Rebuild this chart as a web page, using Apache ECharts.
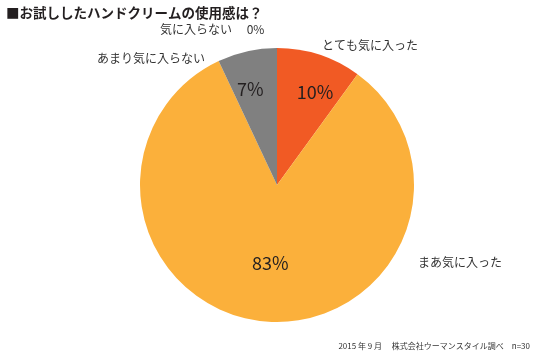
<!DOCTYPE html>
<html>
<head>
<meta charset="utf-8">
<script src="https://cdn.jsdelivr.net/npm/echarts@6/dist/echarts.min.js"></script>
<style>
  html, body { margin: 0; padding: 0; background: #fff; }
  #chart { width: 535px; height: 354px; }
</style>
</head>
<body>
<div id="chart"></div>
<script>
// 回答カテゴリと割合(%)
const categories = ['とても気に入った', 'まあ気に入った', 'あまり気に入らない', '気に入らない'];
const values = [10, 83, 7, 0];
const colors = ['#f15a24', '#fbb03b', '#808080', '#b3b3b3'];

const titleText = '■お試ししたハンドクリームの使用感は？';
const footerText = '2015 年 9 月　 株式会社ウーマンスタイル調べ　n=30';

const font = '"Noto Sans CJK JP", "Noto Sans", sans-serif';

// 外側ラベルの置き場所
const outerPos = [
  { x: 322, y: 45 },
  { x: 418, y: 262 },
  { x: 97, y: 58 },
  { x: 160, y: 29 }
];
// 内側％ラベルのずらし量
const innerShift = [
  { dx: 16, dy: -25 },
  { dx: 0, dy: 7 },
  { dx: -11, dy: -26 },
  { dx: 0, dy: 0 }
];

const chart = echarts.init(document.getElementById('chart'));

const option = {
  animation: false,
  textStyle: { fontFamily: font },
  title: {
    text: titleText,
    left: 1,
    top: 1,
    textStyle: { fontSize: 13.5, fontWeight: 'bold', color: '#231f20', fontFamily: font }
  },
  graphic: [
    {
      type: 'text',
      right: 5,
      top: 342,
      style: { text: footerText, fontSize: 8, fill: '#333', fontFamily: font }
    }
  ],
  series: [
    {
      type: 'pie',
      center: [277, 185],
      radius: 137,
      startAngle: 90,
      clockwise: true,
      silent: true,
      label: {
        position: 'inside',
        formatter: '{c}%',
        fontSize: 18,
        color: '#231f20',
        fontFamily: font
      },
      labelLine: { show: false },
      labelLayout: function (p) {
        return innerShift[p.dataIndex];
      },
      data: categories.map((c, i) => ({
        name: c,
        value: values[i],
        itemStyle: { color: colors[i] },
        label: { show: values[i] > 0 }
      }))
    },
    {
      // 名前ラベルだけの重ね用
      type: 'pie',
      center: [277, 185],
      radius: 137,
      startAngle: 90,
      clockwise: true,
      silent: true,
      z: 3,
      itemStyle: { color: 'rgba(0,0,0,0)' },
      label: {
        position: 'outside',
        formatter: function (p) {
          return p.value === 0 ? p.name + '　 ' + p.value + '%' : p.name;
        },
        fontSize: 12,
        color: '#333',
        fontFamily: font
      },
      labelLine: { show: false },
      labelLayout: function (p) {
        const pos = outerPos[p.dataIndex];
        return { x: pos.x, y: pos.y, align: 'left', verticalAlign: 'middle', hideOverlap: false };
      },
      data: categories.map((c, i) => ({ name: c, value: values[i] }))
    }
  ]
};

chart.setOption(option);
</script>
</body>
</html>
